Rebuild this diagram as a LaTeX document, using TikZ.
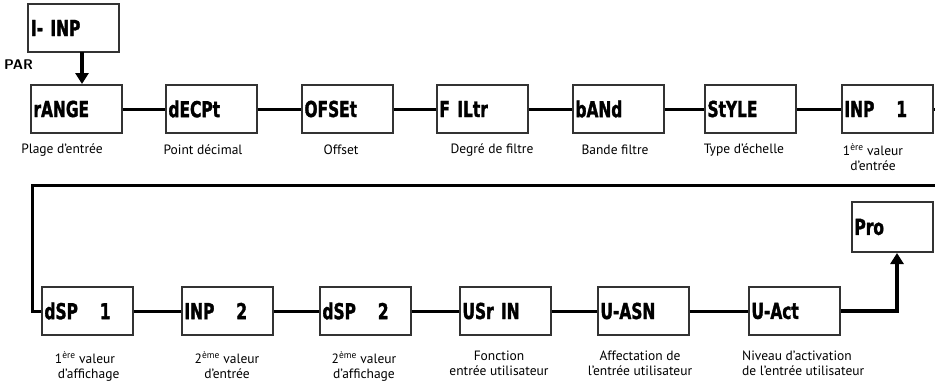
\documentclass[tikz,border=0pt]{standalone}
\usepackage{fontspec}
\setmainfont{PT Sans}
\newfontfamily\lcd[FakeStretch=0.7,FakeBold=1.5]{DejaVu Sans}
\newfontfamily\titlefont{Open Sans}
\usetikzlibrary{arrows.meta}
\definecolor{boxline}{HTML}{333333}
\tikzset{
  lcdbox/.style={draw=boxline, line width=2pt, minimum width=91pt, minimum height=48pt,
    text width=85pt, inner xsep=3pt, align=left, font=\lcd\bfseries\fontsize{22}{22}\selectfont},
  conn/.style={line width=3pt, black},
  arr/.style={line width=3.5pt, black, -{Triangle[length=11pt,width=13pt]}},
  lbl/.style={font=\fontsize{13.5}{15}\selectfont, align=center, inner sep=0pt}
}
\begin{document}
\begin{tikzpicture}[x=1pt,y=-1pt]
\useasboundingbox (0,0) rectangle (935,383);
\clip (0,0) rectangle (935,383);
% clipped title (cut off at the top edge, as in the reference)
\node[anchor=base west, inner sep=0pt, font=\titlefont\bfseries\fontsize{17}{17}\selectfont] (title) at (112,-4.5) {Section de programmation des entrées (INP)};
% top box
\node[lcdbox] (inp) at (73.5,28) {I- INP};
\node[font=\sffamily\bfseries\fontsize{14}{14}\selectfont, inner sep=0pt, anchor=west] (par) at (4,65) {PAR};
% row 1
\node[lcdbox] (range) at (76,109) {rANGE};
\node[lcdbox] (decpt) at (211,109) {dECPt};
\node[lcdbox] (ofset) at (347,109) {OFSEt};
\node[lcdbox] (filtr) at (482,109) {F ILtr};
\node[lcdbox] (band)  at (618,109) {bANd};
\node[lcdbox] (style) at (750,109) {StYLE};
\node[lcdbox] (inpone) at (887,109) {INP\ \ \ 1};
% row 1 labels
\node[lbl] (l1) at (62,150) {Plage d’entrée};
\node[lbl] (l2) at (203,150) {Point décimal};
\node[lbl] (l3) at (341,150) {Offset};
\node[lbl] (l4) at (492,150) {Degré de filtre};
\node[lbl] (l5) at (615,150) {Bande filtre};
\node[lbl] (l6) at (744,150) {Type d’échelle};
\node[lbl, anchor=north] (l7) at (873,143) {1\textsuperscript{ère} valeur\\d’entrée};
% row 2
\node[lcdbox] (dspone) at (87,311) {dSP\ \ \ 1};
\node[lcdbox] (inptwo) at (227,311) {INP\ \ \ 2};
\node[lcdbox] (dsptwo) at (365,311) {dSP\ \ \ 2};
\node[lcdbox] (usrin) at (505,311) {USr IN};
\node[lcdbox] (uasn) at (643,311) {U-ASN};
\node[lcdbox] (uact) at (794,311) {U-Act};
\node[lcdbox, minimum width=81pt, text width=75pt, minimum height=50pt] (pro) at (892,227) {Pro};
% row 2 labels
\node[lbl, anchor=north] (m1) at (85,351) {1\textsuperscript{ère} valeur\\\ \ d’affichage};
\node[lbl, anchor=north] (m2) at (227,351) {2\textsuperscript{ème} valeur\\d’entrée};
\node[lbl, anchor=north] (m3) at (364,351) {2\textsuperscript{ème} valeur\\d’affichage};
\node[lbl, anchor=north] (m4) at (499,351) {Fonction\\entrée utilisateur};
\node[lbl, anchor=north] (m5) at (640,351) {Affectation de\\l’entrée utilisateur};
\node[lbl, anchor=north west, align=left] (m6) at (742,351) {Niveau d’activation\\de l’entrée utilisateur};
% connectors
\coordinate (a1) at (82,52);
\draw[arr] (a1) -- (a1 |- range.north);
\draw[conn] (range) -- (decpt);
\draw[conn] (decpt) -- (ofset);
\draw[conn] (ofset) -- (filtr);
\draw[conn] (filtr) -- (band);
\draw[conn] (band) -- (style);
\draw[conn] (style) -- (inpone);
\coordinate (e1) at (936,109);
\draw[conn] (inpone) -- (e1);
\coordinate (w1) at (936,185);
\coordinate (w2) at (32,185);
\draw[conn, line join=miter] (w1) -- (w2) |- (dspone.west);
\draw[conn] (dspone) -- (inptwo);
\draw[conn] (inptwo) -- (dsptwo);
\draw[conn] (dsptwo) -- (usrin);
\draw[conn] (usrin) -- (uasn);
\draw[conn] (uasn) -- (uact);
\coordinate (b1) at (897,311);
\draw[arr] (uact.east) -- (b1) -- (b1 |- pro.south);
\end{tikzpicture}
\end{document}
